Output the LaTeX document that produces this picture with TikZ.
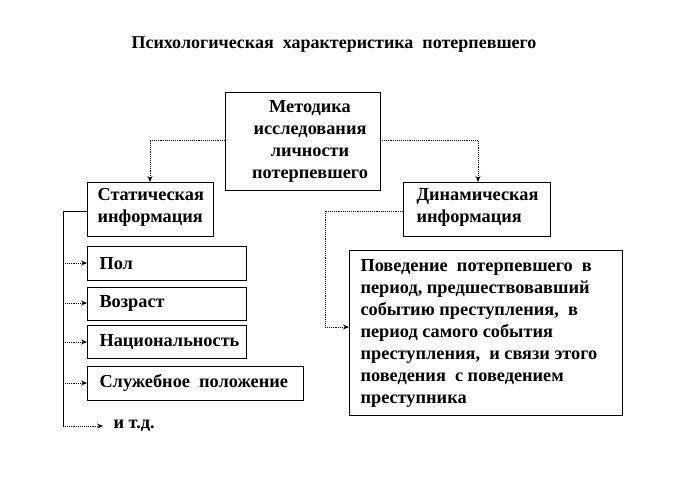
\documentclass[tikz,border=0pt]{standalone}
\usepackage{fontspec}
\setmainfont{Liberation Serif}
\usetikzlibrary{arrows.meta}
\tikzset{
  box/.style={draw=black, line width=0.8pt, inner sep=0pt},
  lbl/.style={font=\fontsize{18.3}{22}\selectfont\bfseries, align=left, anchor=north west},
  clbl/.style={font=\fontsize{18.3}{22}\selectfont\bfseries, align=center},
  conn/.style={line width=0.9pt, densely dotted, -{Stealth[length=6pt,width=5pt]}},
  trunk/.style={line width=1pt}
}
\begin{document}
\begin{tikzpicture}[x=1pt,y=-1pt]
\useasboundingbox (0,0) rectangle (676,484);
\node[font=\fontsize{18}{20}\selectfont\bfseries] (title) at (334,45) {Психологическая\ \ характеристика\ \ потерпевшего};
% boxes
\draw[box] (225,92) rectangle (380,190);
\node[clbl] (mt) at (310,141) {Методика\\исследования\\личности\\потерпевшего};
\coordinate (mL) at (225,140); \coordinate (mR) at (380,140);
\draw[box] (87,182) rectangle (213,236);
\node[lbl] (st) at (94,185) {Статическая\\информация};
\coordinate (sT) at (150,182); \coordinate (sL) at (87,211);
\draw[box] (403,182) rectangle (550,236);
\node[lbl] (dn) at (413,185) {Динамическая\\информация};
\coordinate (dT) at (478,182); \coordinate (dL) at (403,211);
\draw[box] (87,246) rectangle (246,280);
\node[lbl,anchor=west] (pol) at (96,264) {Пол};
\draw[box] (87,287) rectangle (246,320);
\node[lbl,anchor=west] (voz) at (96,303) {Возраст};
\draw[box] (87,325) rectangle (246,358);
\node[lbl,anchor=west] (nac) at (96,342) {Национальность};
\draw[box] (87,366) rectangle (303,400);
\node[lbl,anchor=west] (slu) at (96,383) {Служебное\ \ положение};
\node[lbl,anchor=west] (etc) at (110,426) {и т.д.};
\draw[box] (349,250) rectangle (622,415);
\node[lbl] (beh) at (357,256) {Поведение\ \ потерпевшего\ \ в\\период,\ предшествовавший\\событию преступления,\ \ в\\период самого события\\преступления,\ \ и связи этого\\поведения\ \ с поведением\\преступника};
% connectors
\draw[conn] (mL) -| (sT);
\draw[conn] (mR) -| (dT);
\draw[trunk] (sL) -- (63,211) -- (63,426);
\draw[conn] (63,263) -- (87,263);
\draw[conn] (63,303) -- (87,303);
\draw[conn] (63,342) -- (87,342);
\draw[conn] (63,383) -- (87,383);
\draw[conn] (63,426) -- (103,426);
\draw[line width=0.9pt, densely dotted] (dL) -- (325,211) -- (325,327);
\draw[conn] (325,327) -- (349,327);
\end{tikzpicture}
\end{document}
